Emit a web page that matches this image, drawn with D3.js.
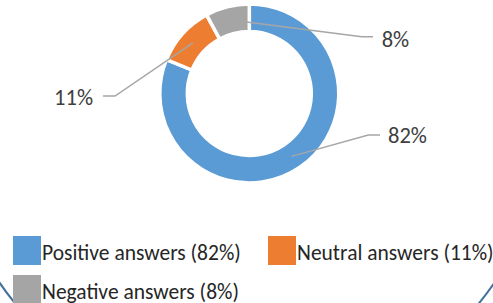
<!DOCTYPE html>
<html>
<head>
<meta charset="utf-8">
<script src="https://cdn.jsdelivr.net/npm/d3@7"></script>
<style>
html,body{margin:0;padding:0;background:#fff;overflow:hidden;}
svg{display:block;}
</style>
</head>
<body>
<svg id="chart" width="493" height="303"></svg>
<script>
const categories = ["Positive answers", "Neutral answers", "Negative answers"];
const values = [82, 11, 8];
const valueLabels = ["82%", "11%", "8%"];
const legendLabels = ["Positive answers (82%)", "Neutral answers (11%)", "Negative answers (8%)"];
const colors = ["#5b9bd5", "#ed7d31", "#a5a5a5"];

// layout (not data)
const cx = 249.3, cy = 93.5, rOuter = 89.5, rInner = 62;
const leaderLayout = [
  {elbow: [119, 41.5], endDx: 11.7, label: [138.7, 49.5], anchor: "start"},
  {elbow: [-134.3, 2.5], endDx: -12, label: [-156.3, 11.5], anchor: "end"},
  {elbow: [112.4, -56.8], endDx: 11.3, label: [132.4, -46.8], anchor: "start"}
];
const FONT = "Calibri, Carlito, Lato, 'Open Sans', sans-serif";

const svg = d3.select("#chart");

// background frame circle (only bottom visible)
svg.append("circle")
  .attr("cx", 247).attr("cy", 113).attr("r", 300)
  .attr("fill", "none").attr("stroke", "#41719c").attr("stroke-width", 2);

const pie = d3.pie().sort(null).value(d => d).startAngle(0).endAngle(2 * Math.PI);
const arc = d3.arc().innerRadius(rInner).outerRadius(rOuter);
const arcs = pie(values);

const g = svg.append("g").attr("transform", `translate(${cx},${cy})`);
g.selectAll("path.slice").data(arcs).join("path")
  .attr("class", "slice")
  .attr("d", arc)
  .attr("fill", (d, i) => colors[i])
  .attr("stroke", "#fff")
  .attr("stroke-width", 3.5)
  .attr("stroke-linejoin", "miter");

// leader lines
g.selectAll("polyline.leader").data(arcs).join("polyline")
  .attr("class", "leader")
  .attr("points", (d, i) => {
    const c = arc.centroid(d);
    const L = leaderLayout[i];
    return [c, L.elbow, [L.elbow[0] + L.endDx, L.elbow[1]]].map(p => p.join(",")).join(" ");
  })
  .attr("fill", "none").attr("stroke", "#a6a6a6").attr("stroke-width", 1.5);

g.selectAll("text.vlabel").data(arcs).join("text")
  .attr("class", "vlabel")
  .attr("x", (d, i) => leaderLayout[i].label[0])
  .attr("y", (d, i) => leaderLayout[i].label[1])
  .attr("text-anchor", (d, i) => leaderLayout[i].anchor)
  .attr("font-family", FONT).attr("font-size", 22.5)
  .attr("fill", "#404040")
  .text((d, i) => valueLabels[i]);

// legend
const legendPos = [[13, 236], [268, 236], [13, 275]];
const lg = svg.append("g");
const items = lg.selectAll("g.item").data(categories).join("g")
  .attr("class", "item")
  .attr("transform", (d, i) => `translate(${legendPos[i][0]},${legendPos[i][1]})`);
items.append("rect")
  .attr("width", 28).attr("height", 29)
  .attr("fill", (d, i) => colors[i]);
items.append("text")
  .attr("x", 29).attr("y", 23.5)
  .attr("font-family", FONT).attr("font-size", 21.5)
  .attr("fill", "#262626")
  .text((d, i) => legendLabels[i]);
</script>
</body>
</html>
